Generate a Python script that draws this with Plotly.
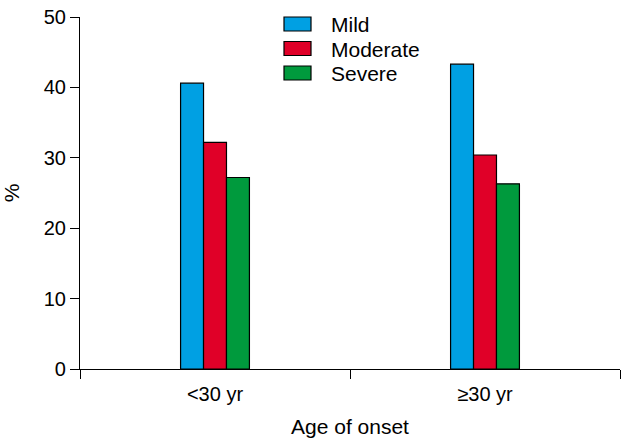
import plotly.graph_objects as go

categories = ["<30 yr", "≥30 yr"]
series_names = ["Mild", "Moderate", "Severe"]
mild = [40.6, 43.3]
moderate = [32.2, 30.4]
severe = [27.2, 26.3]
colors = ["#00A0E3", "#E00028", "#009A3D"]
y_ticks = [0, 10, 20, 30, 40, 50]

font = "Liberation Sans, Arial, sans-serif"
W, H = 622, 441
ML, MR, MT, MB = 80, 2, 17, 72
PW, PH = W - ML - MR, H - MT - MB

fig = go.Figure()
for name, vals, col in zip(series_names, [mild, moderate, severe], colors):
    fig.add_trace(go.Bar(x=categories, y=vals, name=name, showlegend=False,
                         marker=dict(color=col, line=dict(color="black", width=1.2))))

# custom legend (swatches + labels) in paper coordinates
def px_x(px):
    return (px - ML) / PW

def px_y(py):
    return (H - MB - py) / PH

for i, (name, col) in enumerate(zip(series_names, colors)):
    top = 17 + i * 24.5
    fig.add_shape(type="rect", xref="paper", yref="paper",
                  x0=px_x(284), x1=px_x(311), y0=px_y(top + 14), y1=px_y(top),
                  fillcolor=col, line=dict(color="black", width=1.2))
    fig.add_annotation(xref="paper", yref="paper", x=px_x(329), y=px_y(top + 7.5),
                       text=name, showarrow=False, xanchor="left", yanchor="middle",
                       font=dict(size=21, family=font, color="black"))

fig.update_layout(
    width=W, height=H,
    margin=dict(l=ML, r=MR, t=MT, b=MB),
    plot_bgcolor="white", paper_bgcolor="white",
    barmode="group", bargap=0.745, bargroupgap=0,
    font=dict(family=font, size=20, color="black"),
    showlegend=False,
)
fig.update_xaxes(
    type="category", range=[-0.5, 1.5], tickson="boundaries", automargin=False,
    showline=True, linecolor="black", linewidth=1.2,
    ticks="outside", ticklen=9, tickcolor="black", tickwidth=1.2,
    ticklabelstandoff=7,
    title=dict(text="Age of onset", font=dict(size=21), standoff=15),
    tickfont=dict(size=20), showgrid=False,
)
fig.update_yaxes(
    range=[0, 50], tickvals=y_ticks, automargin=False,
    showline=True, linecolor="black", linewidth=1.2,
    ticks="outside", ticklen=9, tickcolor="black", tickwidth=1.2,
    title=dict(text="%", font=dict(size=21), standoff=18),
    tickfont=dict(size=20), showgrid=False, zeroline=False,
)
fig.write_html("out.html", config={"displayModeBar": False},
               post_script="document.body.style.margin='0';")
